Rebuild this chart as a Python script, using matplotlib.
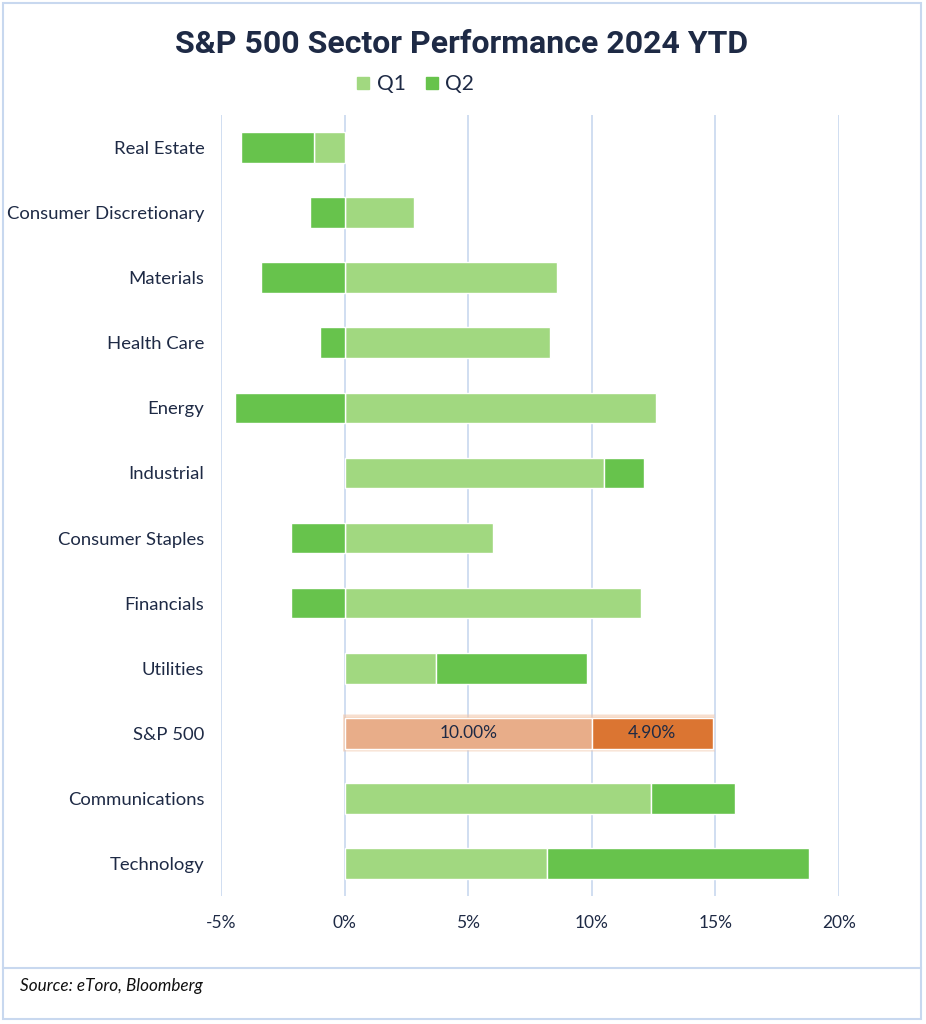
import numpy as np
import matplotlib.pyplot as plt
from matplotlib.patches import Rectangle
from matplotlib.lines import Line2D

# Datos (% rentabilidad por trimestre)
sectores = ['Real Estate', 'Consumer Discretionary', 'Materials', 'Health Care',
            'Energy', 'Industrial', 'Consumer Staples', 'Financials', 'Utilities',
            'S&P 500', 'Communications', 'Technology']
q1 = [-1.25, 2.8, 8.6, 8.3, 12.6, 10.5, 6.0, 12.0, 3.7, 10.0, 12.4, 8.2]
q2 = [-2.95, -1.4, -3.4, -1.0, -4.45, 1.6, -2.15, -2.15, 6.1, 4.9, 3.4, 10.6]
xticks = [-5, 0, 5, 10, 15, 20]

VERDE_Q1 = '#A1D880'
VERDE_Q2 = '#67C34C'
NARANJA_Q1 = '#E8AD89'
NARANJA_Q2 = '#DB7532'
NAVY = '#1E2A45'
GRID = '#C8D8EF'

plt.rcParams['font.family'] = ['Lato', 'DejaVu Sans']

fig = plt.figure(figsize=(9.26, 10.24), dpi=100)
ax = fig.add_axes([221 / 926, 1 - 896 / 1024, (839 - 221) / 926, (896 - 115) / 1024])

y = np.arange(len(sectores))
h = 0.47
for i, (a, b) in enumerate(zip(q1, q2)):
    es_sp = sectores[i] == 'S&P 500'
    c1 = NARANJA_Q1 if es_sp else VERDE_Q1
    c2 = NARANJA_Q2 if es_sp else VERDE_Q2
    # Excel-style: negativos y positivos se apilan por separado
    left2 = a if (a >= 0) == (b >= 0) else 0
    if es_sp:
        # resplandor alrededor de la barra del S&P 500
        for extra, alpha in [(0.12, 0.25), (0.08, 0.35), (0.04, 0.5)]:
            ax.barh(i, a + b + extra * 1.4, left=-extra * 0.7, height=h + extra,
                    color='#F2C2A3', alpha=alpha, lw=0, zorder=2)
    ax.barh(i, a, height=h, color=c1, edgecolor='white', linewidth=1, zorder=3)
    ax.barh(i, b, left=left2, height=h, color=c2, edgecolor='white', linewidth=1, zorder=3)
    if es_sp:
        ax.text(a / 2, i, f'{a:.2f}%', ha='center', va='center', fontsize=12.5,
                color=NAVY, zorder=4)
        ax.text(a + b / 2, i, f'{b:.2f}%', ha='center', va='center', fontsize=12.5,
                color=NAVY, zorder=4)

ax.set_xlim(-5, 20)
ax.set_ylim(len(sectores) - 0.5, -0.5)
ax.set_yticks(y)
ax.set_yticklabels(sectores, fontsize=13.3, color=NAVY)
ax.set_xticks(xticks)
ax.set_xticklabels([f'{t}%' for t in xticks], fontsize=12.5, color=NAVY)
ax.tick_params(length=0)
ax.tick_params(axis='x', pad=14)
ax.tick_params(axis='y', pad=12)
ax.grid(axis='x', color=GRID, lw=1.2, zorder=0)
ax.set_axisbelow(True)
for s in ax.spines.values():
    s.set_visible(False)

# Titulo y leyenda
fig.text(462 / 926, 1 - 44 / 1024, 'S&P 500 Sector Performance 2024 YTD',
         ha='center', va='center', fontsize=23, fontweight='bold', color=NAVY,
         family=['Roboto', 'DejaVu Sans'])
handles = [Line2D([], [], marker='s', ls='', color=VERDE_Q1, ms=8),
           Line2D([], [], marker='s', ls='', color=VERDE_Q2, ms=8)]
fig.legend(handles, ['Q1', 'Q2'], loc='center', bbox_to_anchor=(411 / 926, 1 - 84 / 1024),
           ncol=2, frameon=False, fontsize=15, handletextpad=-0.1, columnspacing=0.5,
           handlelength=1.5, labelcolor=NAVY)

# Marco y fuente
fig.add_artist(Rectangle((3 / 926, 1 - 1019 / 1024), 918 / 926, 1016 / 1024,
                         transform=fig.transFigure, fill=False, ec=GRID, lw=1.5))
fig.add_artist(Line2D([3 / 926, 921 / 926], [1 - 968 / 1024] * 2,
                      transform=fig.transFigure, color=GRID, lw=1.5))
fig.text(20 / 926, 1 - 986 / 1024, 'Source: eToro, Bloomberg', ha='left', va='center',
         fontsize=12.3, style='italic', color='#111111')

plt.savefig('out.png', dpi=100)
plt.close()
